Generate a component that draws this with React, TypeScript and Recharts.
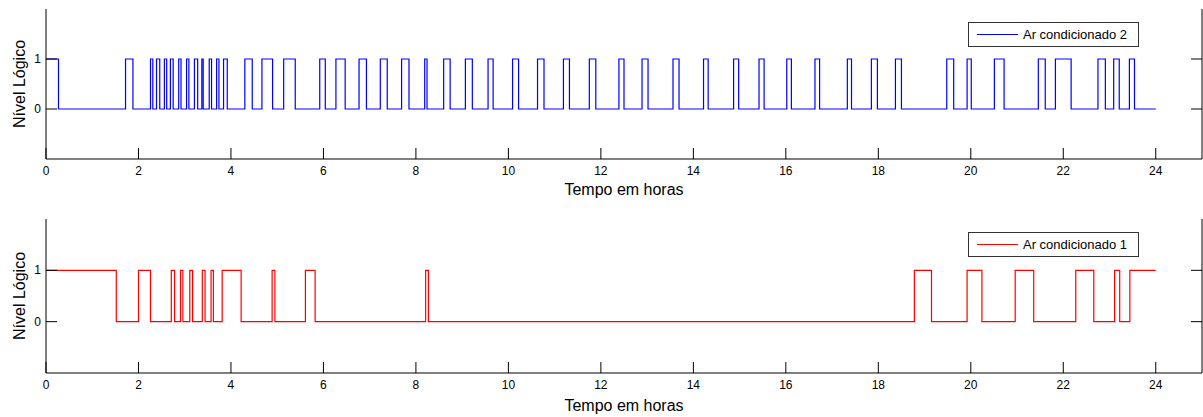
import React from 'react';
import { LineChart, Line, XAxis, YAxis, Legend } from 'recharts';

// [hora, nível lógico] em cada transição
const arCondicionado2: [number, number][] = [
  [0, 1], [0.27, 0], [1.72, 1], [1.88, 0], [2.26, 1], [2.31, 0], [2.39, 1], [2.46, 0],
  [2.56, 1], [2.61, 0], [2.69, 1], [2.75, 0], [2.87, 1], [2.92, 0], [3.04, 1], [3.09, 0],
  [3.21, 1], [3.28, 0], [3.37, 1], [3.4, 0], [3.53, 1], [3.58, 0], [3.69, 1], [3.74, 0],
  [3.84, 1], [3.92, 0], [4.3, 1], [4.46, 0], [4.67, 1], [4.9, 0], [5.14, 1], [5.39, 0],
  [5.92, 1], [6.04, 0], [6.27, 1], [6.47, 0], [6.77, 1], [6.93, 0], [7.23, 1], [7.38, 0],
  [7.69, 1], [7.85, 0], [8.19, 1], [8.24, 0], [8.6, 1], [8.74, 0], [9.07, 1], [9.22, 0],
  [9.56, 1], [9.67, 0], [10.09, 1], [10.22, 0], [10.63, 1], [10.77, 0], [11.19, 1], [11.32, 0],
  [11.75, 1], [11.89, 0], [12.39, 1], [12.5, 0], [12.89, 1], [13.02, 0], [13.56, 1], [13.69, 0],
  [14.22, 1], [14.32, 0], [14.87, 1], [14.98, 0], [15.42, 1], [15.53, 0], [16.02, 1], [16.12, 0],
  [16.63, 1], [16.73, 0], [17.33, 1], [17.42, 0], [17.85, 1], [17.98, 0], [18.37, 1], [18.5, 0],
  [19.48, 1], [19.63, 0], [19.92, 1], [20.01, 0], [20.51, 1], [20.72, 0], [21.46, 1], [21.61, 0],
  [21.83, 1], [22.17, 0], [22.75, 1], [22.91, 0], [23.09, 1], [23.21, 0], [23.43, 1], [23.54, 0],
  [24, 0],
];

const arCondicionado1: [number, number][] = [
  [0, 1], [1.52, 0], [2.0, 1], [2.26, 0], [2.71, 1], [2.78, 0], [2.91, 1], [2.96, 0],
  [3.11, 1], [3.17, 0], [3.38, 1], [3.44, 0], [3.57, 1], [3.62, 0], [3.81, 1], [4.22, 0],
  [4.89, 1], [4.95, 0], [5.61, 1], [5.82, 0], [8.21, 1], [8.27, 0], [18.78, 1], [19.15, 0],
  [19.92, 1], [20.24, 0], [20.96, 1], [21.36, 0], [22.27, 1], [22.66, 0], [23.11, 1], [23.22, 0],
  [23.44, 1], [24, 1],
];

const horasTicks = [0, 2, 4, 6, 8, 10, 12, 14, 16, 18, 20, 22, 24];
const nivelTicks = [0, 1];

const FONT = 'Arial, "Liberation Sans", Helvetica, sans-serif';
const TICK_LEN = 11;

const BottomTick = ({ x, y, payload }: any) => (
  <g>
    <line x1={x} x2={x} y1={y} y2={y - TICK_LEN} stroke="#000" />
    <text x={x} y={y + 16} textAnchor="middle" fontSize={12} fontFamily={FONT} fill="#000">
      {payload.value}
    </text>
  </g>
);

const TopTick = ({ x, y }: any) => <line x1={x} x2={x} y1={y} y2={y + TICK_LEN} stroke="#000" />;

const LeftTick = ({ x, y, payload }: any) => (
  <g>
    <line x1={x} x2={x + TICK_LEN} y1={y} y2={y} stroke="#000" />
    <text x={x - 5} y={y + 4} textAnchor="end" fontSize={12} fontFamily={FONT} fill="#000">
      {payload.value}
    </text>
  </g>
);

const RightTick = ({ x, y }: any) => <line x1={x} x2={x - TICK_LEN} y1={y} y2={y} stroke="#000" />;

const makeLegend = (label: string, color: string) => () => (
  <div
    style={{
      boxSizing: 'border-box',
      width: 171,
      height: 25,
      border: '1px solid #333',
      background: '#fff',
      display: 'flex',
      alignItems: 'center',
      paddingLeft: 8,
      fontFamily: FONT,
      fontSize: 13,
      color: '#000',
    }}
  >
    <span style={{ width: 41, height: 0, borderTop: `1px solid ${color}`, display: 'inline-block', marginRight: 5 }} />
    <span>{label}</span>
  </div>
);

interface SinalProps {
  pontos: [number, number][];
  nome: string;
  cor: string;
  height: number;
  xAxisHeight: number;
  labelDy: number;
}

const Sinal = ({ pontos, nome, cor, height, xAxisHeight, labelDy }: SinalProps) => {
  const data = pontos.map(([t, v]) => ({ t, v }));
  return (
    <LineChart width={1203} height={height} data={data} margin={{ top: 9, right: 0, left: 0, bottom: 0 }}>
      <XAxis
        dataKey="t"
        type="number"
        domain={[0, 25]}
        ticks={horasTicks}
        allowDecimals
        height={xAxisHeight}
        stroke="#000"
        tickSize={0}
        tickMargin={0}
        tickLine={false}
        tick={BottomTick}
        label={{
          content: ({ viewBox }: any) => (
            <text
              x={viewBox.x + viewBox.width / 2}
              y={viewBox.y + labelDy}
              textAnchor="middle"
              fontSize={16}
              fontFamily={FONT}
              fill="#000"
            >
              Tempo em horas
            </text>
          ),
        }}
      />
      <XAxis
        xAxisId="top"
        orientation="top"
        type="number"
        domain={[0, 25]}
        ticks={horasTicks}
        allowDataOverflow
        height={0}
        stroke="#000"
        tickSize={0}
        tickMargin={0}
        tickLine={false}
        tick={TopTick}
      />
      <YAxis
        type="number"
        domain={[-1, 2]}
        ticks={nivelTicks}
        width={46}
        stroke="#000"
        tickSize={0}
        tickMargin={0}
        tickLine={false}
        tick={LeftTick}
        label={{
          content: ({ viewBox }: any) => {
            const cx = 25;
            const cy = viewBox.y + viewBox.height / 2;
            return (
              <text
                x={cx}
                y={cy}
                transform={`rotate(-90 ${cx} ${cy})`}
                textAnchor="middle"
                fontSize={16}
                fontFamily={FONT}
                fill="#000"
              >
                Nível Lógico
              </text>
            );
          },
        }}
      />
      <YAxis
        yAxisId="right"
        orientation="right"
        type="number"
        domain={[-1, 2]}
        ticks={nivelTicks}
        allowDataOverflow
        width={1}
        stroke="#000"
        tickSize={0}
        tickMargin={0}
        tickLine={false}
        tick={RightTick}
      />
      <Legend
        content={makeLegend(nome, cor)}
        verticalAlign="middle"
        align="center"
        layout="horizontal"
        wrapperStyle={{ left: 968, top: 22, width: 171, height: 25 }}
      />
      <Line
        type="stepAfter"
        dataKey="v"
        name={nome}
        stroke={cor}
        strokeWidth={1.2}
        dot={false}
        isAnimationActive={false}
      />
    </LineChart>
  );
};

export default function App() {
  return (
    <div style={{ position: 'absolute', left: 0, top: 0, width: 1203, height: 417, background: '#fff' }}>
      <div style={{ position: 'absolute', left: 0, top: 0 }}>
        <Sinal pontos={arCondicionado2} nome="Ar condicionado 2" cor="#0000ff" height={205} xAxisHeight={46} labelDy={36} />
      </div>
      <div style={{ position: 'absolute', left: 0, top: 210 }}>
        <Sinal pontos={arCondicionado1} nome="Ar condicionado 1" cor="#ff0000" height={207} xAxisHeight={44} labelDy={38} />
      </div>
    </div>
  );
}
